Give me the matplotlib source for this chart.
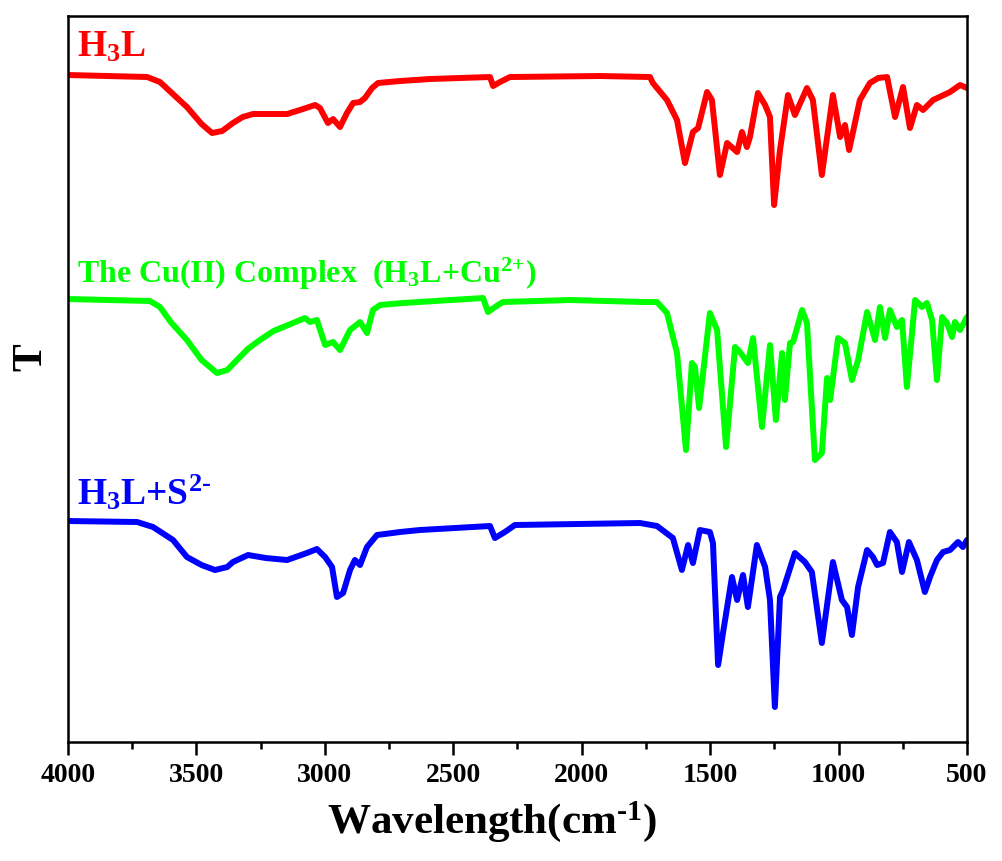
import matplotlib
matplotlib.use("Agg")
import matplotlib.pyplot as plt
from matplotlib.ticker import MultipleLocator

plt.rcParams['font.family'] = 'Liberation Serif'
plt.rcParams['font.weight'] = 'bold'
plt.rcParams['mathtext.fontset'] = 'custom'
plt.rcParams['mathtext.rm'] = 'Liberation Serif:bold'
plt.rcParams['mathtext.it'] = 'Liberation Serif:bold'
plt.rcParams['mathtext.bf'] = 'Liberation Serif:bold'
plt.rcParams['mathtext.default'] = 'rm'

# IR spectra, wavenumber (cm-1) vs transmittance (arbitrary, stacked)
h3l_wn = [4000, 3692, 3642, 3600, 3537, 3480, 3439, 3400, 3358, 3320, 3280, 3147,
          3097, 3038, 3019, 2988,
          2968, 2941, 2914, 2890, 2863, 2844, 2816, 2793, 2707, 2591, 2357, 2345,
          2318, 2279, 1929, 1734, 1723, 1668, 1629, 1598, 1567, 1547, 1512, 1493,
          1462, 1434, 1395, 1376, 1357, 1345, 1314, 1286, 1267, 1251, 1228, 1197,
          1170, 1123, 1100, 1065, 1022, 994, 975, 959, 917, 878, 846, 811, 780,
          749, 722, 695, 671, 632, 566, 527, 500]
h3l_t = [667, 665, 660, 650, 635, 618, 609, 611, 619, 625, 628, 628,
         632, 637, 634, 619,
         623, 615, 629, 639, 640, 644, 654, 659, 661, 663, 665, 656,
         660, 665, 666, 665, 659, 642, 622, 579, 610, 614, 650, 642,
         567, 599, 590, 610, 595, 605, 649, 637, 625, 537, 592, 647,
         627, 654, 642, 567, 647, 605, 617, 592, 642, 659, 664, 665, 625,
         655, 614, 637, 632, 642, 650, 657, 654]

cu_wn = [4000, 3681, 3642, 3600, 3537, 3480, 3420, 3380, 3342, 3300, 3253, 3200,
         3124, 3077, 3058, 3031, 2999,
         2968, 2941, 2902, 2863, 2836, 2813, 2785, 2696, 2384, 2365, 2326, 2306,
         2046, 1761, 1707, 1668, 1629, 1594, 1571, 1559, 1543, 1501, 1473, 1438,
         1403, 1384, 1353, 1333, 1298, 1267, 1244, 1220, 1209, 1189, 1177, 1142,
         1123, 1092, 1065, 1045, 1033, 1002, 975, 948, 924, 889, 858, 839, 819,
         800, 773, 753, 734, 702, 675, 656, 636, 617, 597, 578, 558, 547, 527, 500]
cu_t = [443, 441, 435, 420, 402, 382, 369, 372, 382, 393, 402, 411,
        419, 424, 420, 422, 397,
        400, 392, 412, 420, 409, 432, 437, 439, 444, 430, 437, 440,
        442, 440, 440, 429, 389, 292, 379, 375, 334, 429, 412, 295,
        395, 390, 379, 404, 315, 397, 322, 389, 342, 399, 400, 432,
        419, 282, 289, 364, 342, 404, 399, 362, 382, 430, 402, 435, 404,
        432, 415, 422, 355, 442, 435, 439, 422, 362, 425, 419, 405, 420, 412, 425]

s_wn = [4000, 3731, 3669, 3591, 3537, 3480, 3428, 3380, 3358, 3299, 3230, 3147,
        3070, 3031, 2999,
        2972, 2953, 2929, 2902, 2883, 2863, 2836, 2797, 2707, 2630, 2357, 2338,
        2299, 2260, 1773, 1707, 1645, 1610, 1586, 1567, 1540, 1501, 1489, 1469,
        1450, 1415, 1395, 1372, 1353, 1318, 1286, 1267, 1248, 1228, 1216, 1170,
        1131, 1104, 1065, 1022, 987, 967, 948, 924, 889, 866, 850, 827, 800,
        773, 753, 726, 695, 664, 644, 617, 593, 566, 535, 516, 500]
s_t = [221, 220, 215, 202, 185, 177, 172, 175, 180, 187, 184, 182,
       189, 193, 185,
       175, 145, 149, 172, 182, 177, 195, 207, 210, 212, 216, 204,
       210, 217, 219, 216, 204, 172, 197, 179, 212, 210, 199, 77,
       109, 165, 142, 167, 135, 197, 175, 142, 35, 145, 152, 189,
       180, 170, 99, 180, 142, 135, 107, 155, 192, 185, 177, 179, 210,
       200, 170, 200, 182, 150, 165, 182, 190, 192, 200, 195, 202]

fig = plt.figure(figsize=(10.03, 8.61), dpi=100)
ax = fig.add_axes([0.0678, 0.1382, 0.8963, 0.8432])

lw = 4.3
ax.plot(h3l_wn, h3l_t, color='#ff0000', lw=lw, solid_joinstyle='round', solid_capstyle='round')
ax.plot(cu_wn, cu_t, color='#00ff00', lw=lw, solid_joinstyle='round', solid_capstyle='round')
ax.plot(s_wn, s_t, color='#0000ff', lw=lw, solid_joinstyle='round', solid_capstyle='round')

ax.text(3965, 685, r'H$_3$L', color='#ff0000', fontsize=27, fontweight='bold')
ax.text(3965, 459, r'The Cu(II) Complex  (H$_3$L+Cu$^{\text{2+}}$)', color='#00ff00',
        fontsize=23, fontweight='bold')
ax.text(3965, 237, r'H$_3$L+S$^{\text{2-}}$', color='#0000ff', fontsize=27, fontweight='bold')

ax.set_xlim(4000, 500)
ax.set_ylim(0, 726)
ax.xaxis.set_major_locator(MultipleLocator(500))
ax.xaxis.set_minor_locator(MultipleLocator(250))
ax.set_yticks([])
ax.tick_params(axis='x', which='major', direction='out', length=9, width=1.8,
               labelsize=20, pad=6)
ax.tick_params(axis='x', which='minor', direction='out', length=5, width=1.8)
for s in ax.spines.values():
    s.set_linewidth(1.8)

ax.set_xlabel(r'Wavelength(cm$^{\text{-1}}$)', fontsize=31, fontweight='bold')
ax.xaxis.set_label_coords(0.472, -0.078)
ax.set_ylabel('T', fontsize=30, fontweight='bold')
ax.yaxis.set_label_coords(-0.02, 0.53)

fig.savefig('out.png', dpi=100)
